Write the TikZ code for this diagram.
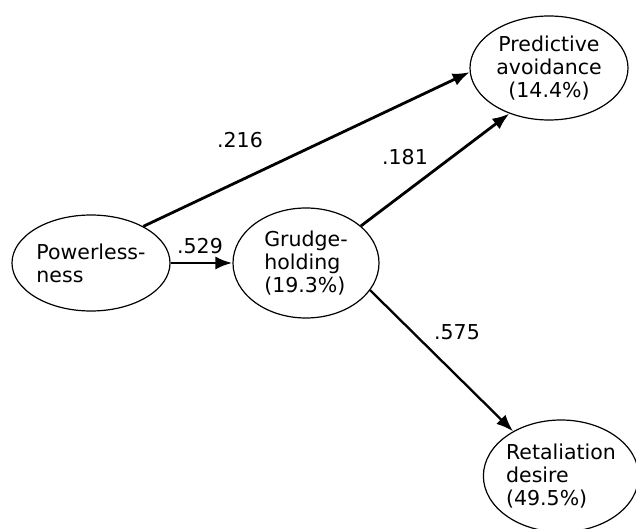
\documentclass[tikz,border=0pt]{standalone}
\usepackage{fontspec}
\setmainfont{DejaVu Sans}
\usetikzlibrary{arrows.meta,shapes.geometric}

\begin{document}
\begin{tikzpicture}[x=1pt, y=-1pt, >={Latex[length=17pt,width=13pt]},
    latent/.style={draw, ellipse, line width=1.2pt, inner sep=0pt, align=left,
      font=\fontsize{20.5}{23}\selectfont},
    effect/.style={->, line width=2.8pt},
    coef/.style={font=\fontsize{20.5}{23}\selectfont}]
    \useasboundingbox (0,0) rectangle (636,529);
    % latent variables
    \node[latent, minimum width=158pt, minimum height=96pt] (pow) at (91,263) {Powerless-\\ness};
    \node[latent, minimum width=146pt, minimum height=110pt] (grudge) at (306,263) {Grudge-\\holding\\(19.3\%)};
    \node[latent, align=center, minimum width=158pt, minimum height=104pt] (pred) at (549,68) {Predictive\\avoidance\\(14.4\%)};
    \node[latent, minimum width=152pt, minimum height=112pt] (ret) at (561,476) {Retaliation\\desire\\(49.5\%)};
    % paths
    \draw[effect] (pow.35) -- (pred.183);
    \draw[effect] (pow.east) -- (grudge.west);
    \draw[effect] (grudge.34) -- (pred.229);
    \draw[effect, line width=2.3pt] (grudge.-23) -- (ret.137);
    % coefficients
    \node[coef] (c216) at (240,140) {.216};
    \node[coef] (c181) at (405,157) {.181};
    \node[coef] (c529) at (200,246) {.529};
    \node[coef] (c575) at (457,332) {.575};
  \end{tikzpicture}
\end{document}
